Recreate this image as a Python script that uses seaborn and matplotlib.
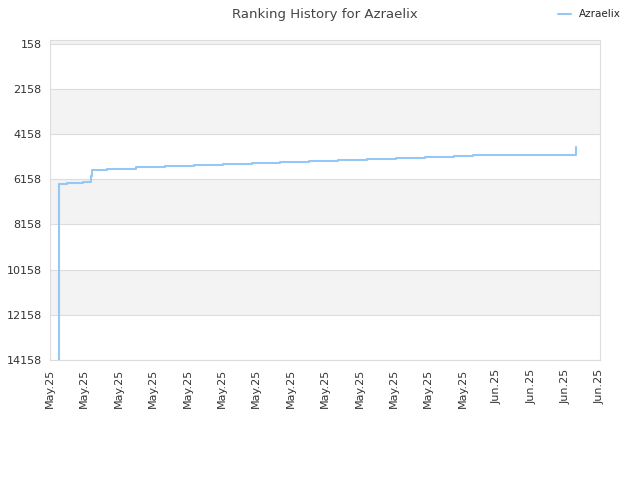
import matplotlib
matplotlib.use('Agg')
import matplotlib.pyplot as plt
import numpy as np
import pandas as pd
import seaborn as sns

# days since start of the axis, and the rank held from that moment on
days = [0.50, 0.51, 1.01, 1.94, 2.37, 2.43, 3.33, 5.00, 6.69, 8.38, 10.07, 11.73,
        13.38, 15.07, 16.74, 18.43, 20.11, 21.82, 23.51, 24.30, 24.59, 30.59]
ranks = [14158, 6392, 6347, 6303, 6000, 5754, 5696, 5638, 5594, 5550, 5506, 5461,
         5417, 5373, 5328, 5284, 5240, 5195, 5151, 5130, 5107, 4735]

tick_pos = list(range(0, 33, 2))
tick_labels = ['May.25'] * 13 + ['Jun.25'] * 4
y_ticks = [158, 2158, 4158, 6158, 8158, 10158, 12158, 14158]
bands = [(0, 158), (2158, 4158), (6158, 8158), (10158, 12158)]

df = pd.DataFrame({'day': days, 'rank': ranks})

sns.set_style('white')
plt.rcParams['font.family'] = ['DejaVu Sans']

fig = plt.figure(figsize=(6.4, 4.8), dpi=100)
ax = fig.add_axes([50 / 640, 1 - 360 / 480, 550 / 640, 320 / 480])

for lo, hi in bands:
    ax.axhspan(lo, hi, color='#f3f3f3', zorder=0, lw=0)
for yt in y_ticks:
    ax.axhline(yt, color='#dddddd', lw=0.8, zorder=1)

sns.lineplot(data=df, x='day', y='rank', ax=ax, color='#95c8f5', lw=1.5,
             drawstyle='steps-post', label='Azraelix', zorder=3)

ax.set_xlim(0, 32)
ax.set_ylim(14158, 0)
ax.set_yticks(y_ticks)
ax.set_yticklabels([str(v) for v in y_ticks], fontsize=8, color='#333333')
ax.set_xticks(tick_pos)
ax.set_xticklabels(tick_labels, rotation=90, fontsize=8, color='#333333')
ax.tick_params(length=0, pad=6)
ax.set_xlabel('')
ax.set_ylabel('')
for s in ax.spines.values():
    s.set_color('#dddddd')
    s.set_linewidth(0.8)

ax.set_title('Ranking History for Azraelix', fontsize=9.5, color='#444444', pad=0,
             y=1 + 22 / 320)

leg = ax.legend(loc='upper right', bbox_to_anchor=((625 - 50) / 550, 1 + 35 / 320),
                frameon=False, fontsize=7.5, handlelength=1.2, handletextpad=0.8,
                borderaxespad=0)

fig.savefig('out.png', dpi=100)
